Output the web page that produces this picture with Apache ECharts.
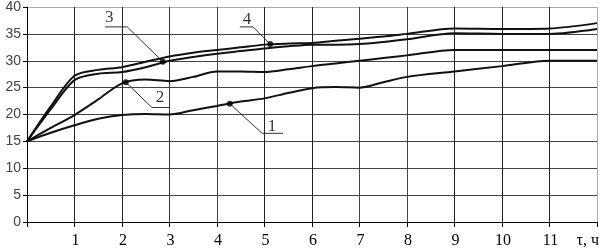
<!DOCTYPE html>
<html><head><meta charset="utf-8">
<script src="https://cdn.jsdelivr.net/npm/echarts@6/dist/echarts.min.js"></script>
<style>html,body{margin:0;padding:0;background:#fff}#c{width:603px;height:251px}</style>
</head><body><div id="c"></div>
<script>
const t      = [0, 0.5, 1, 1.5, 2, 2.5, 3, 3.5, 4, 4.5, 5, 5.5, 6, 6.5, 7, 7.5, 8, 9, 10, 11, 12];
const curve1 = [15, 16.6, 18, 19.2, 19.9, 20.1, 20, 20.8, 21.6, 22.4, 23, 24, 24.9, 25.1, 25, 26, 27, 28, 29, 30, 30];
const curve2 = [15, 17.5, 19.9, 22.8, 25.8, 26.5, 26.2, 27, 28, 28, 27.9, 28.4, 29, 29.5, 30, 30.5, 31, 32, 32, 32, 32];
const curve3 = [15, 21, 26.4, 27.6, 27.9, 28.8, 30, 30.7, 31.3, 31.8, 32.3, 32.7, 33, 33, 33.1, 33.5, 34, 35.1, 35, 35, 35.9];
const curve4 = [15, 21.5, 27.2, 28.3, 28.8, 29.8, 30.8, 31.5, 32, 32.5, 33, 33.2, 33.3, 33.7, 34.1, 34.5, 35, 36, 35.9, 36, 37];
const xTickLabels = ['', '1', '2', '3', '4', '5', '6', '7', '8', '9', '10', '11', 'τ, ч'];
const yTickLabels = ['0', '5', '10', '15', '20', '25', '30', '35', '40'];
// annotation markers (on curves), leader lines and label texts
const curveNames = ['1', '2', '3', '4'];
const markerX = [4.27, 2.08, 2.86, 5.12];
const markerY = [22.0, 26.0, 29.8, 33.1];
const leaders = [
  [[4.27, 22.0], [4.95, 16.5], [5.39, 16.5]],
  [[2.08, 26.0], [2.63, 21.3], [3.01, 21.3]],
  [[1.64, 36.3], [2.11, 36.3], [2.86, 29.8]],
  [[4.48, 36.3], [4.76, 36.3], [5.12, 33.1]]
];
const labelX = [5.16, 2.80, 1.73, 4.63];
const labelY = [17.8, 23.2, 38.1, 37.6];

const curves = [curve1, curve2, curve3, curve4];
const series = [];
curves.forEach((c, i) => {
  series.push({
    type: 'line', data: t.map((x, k) => [x, c[k]]), smooth: 0.3,
    showSymbol: false, lineStyle: {color: '#111', width: 2}, z: 5, silent: true
  });
});
leaders.forEach(l => {
  series.push({type: 'line', data: l, showSymbol: false, lineStyle: {color: '#333', width: 1}, z: 4, silent: true});
});
series.push({
  type: 'scatter', data: markerX.map((x, i) => [x, markerY[i]]),
  symbolSize: 6, itemStyle: {color: '#000'}, z: 6, silent: true
});
series.push({
  type: 'scatter', data: labelX.map((x, i) => [x, labelY[i], curveNames[i]]),
  symbolSize: 0, z: 6, silent: true,
  label: {show: true, position: 'inside', formatter: p => p.data[2],
    fontFamily: 'Liberation Serif', fontSize: 17, color: '#000'}
});

const chart = echarts.init(document.getElementById('c'));
chart.setOption({
  animation: false,
  grid: {left: 27, right: 6, top: 6, bottom: 29},
  xAxis: {
    type: 'value', min: 0, max: 12, interval: 1,
    axisLine: {show: true, lineStyle: {color: '#000', width: 1}},
    axisTick: {show: true, length: 5, lineStyle: {color: '#000'}},
    axisLabel: {formatter: v => xTickLabels[Math.round(v)], fontFamily: 'Liberation Serif', fontSize: 16,
      color: '#000', margin: 11, alignMaxLabel: 'right', padding: [0, -2, 0, 0]},
    splitLine: {show: true, lineStyle: {color: ['#222','#222','#222','#333','#444','#222','#222','#444','#444','#222','#222','#222','#aaa'], width: 1}}
  },
  yAxis: {
    type: 'value', min: 0, max: 40, interval: 5,
    axisLine: {show: true, lineStyle: {color: '#000', width: 1}},
    axisTick: {show: true, length: 4, lineStyle: {color: '#000'}},
    axisLabel: {formatter: v => yTickLabels[Math.round(v / 5)], fontFamily: 'Liberation Sans', fontSize: 14,
      color: '#444', margin: 6},
    splitLine: {show: true, lineStyle: {color: ['#444','#444','#444','#444','#444','#444','#444','#444','#aaa'], width: 1}}
  },
  series: series
});
</script></body></html>
